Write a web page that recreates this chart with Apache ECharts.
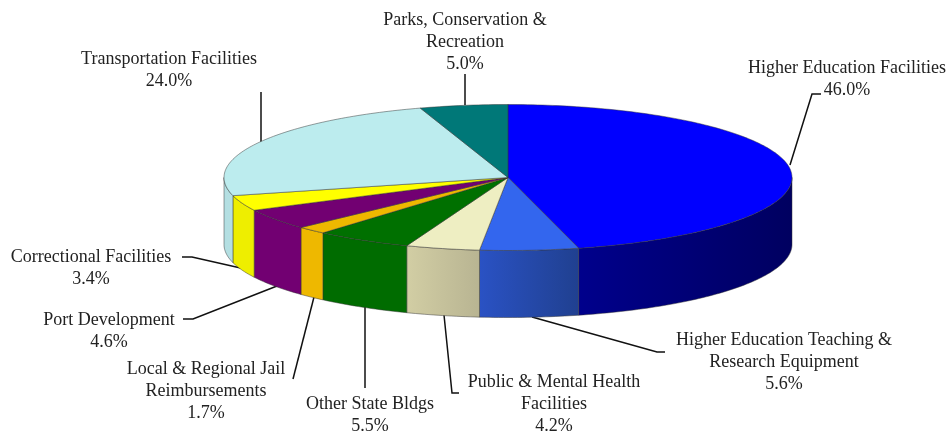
<!DOCTYPE html>
<html>
<head>
<meta charset="utf-8">
<style>
  html, body { margin: 0; padding: 0; background: #fff; }
  #chart { width: 950px; height: 433px; }
</style>
<script src="https://cdn.jsdelivr.net/npm/echarts@6/dist/echarts.min.js"></script>
</head>
<body>
<div id="chart"></div>
<script>
// clockwise from 12 o'clock
var categories = [
  'Higher Education Facilities',
  'Higher Education Teaching &\nResearch Equipment',
  'Public & Mental Health\nFacilities',
  'Other State Bldgs',
  'Local & Regional Jail\nReimbursements',
  'Port Development',
  'Correctional Facilities',
  'Transportation Facilities',
  'Parks, Conservation &\nRecreation'
]
var values = [46.0, 5.6, 4.2, 5.5, 1.7, 4.6, 3.4, 24.0, 5.0]

var topColors = ['#0000ff', '#3366ee', '#eeeec2', '#007000', '#eeb800', '#720072', '#ffff00', '#bcecee', '#007878']
var sideColors = [
  ['#00008c', '#000060'],
  ['#2a52c4', '#204090'],
  ['#d2cea4', '#b8b492'],
  ['#006c00', '#006c00'],
  ['#eeb800', '#eeb800'],
  ['#720072', '#720072'],
  ['#eeee00', '#eeee00'],
  ['#b4dfe2', '#b4dfe2'],
  ['#007878', '#007878']
]

// label centres and leader lines, in pixels
var labelPos = [
  [847, 67], [784, 339], [554, 381], [370, 403], [206, 368],
  [109, 319], [91, 256], [169, 58], [465, 19]
]
var leaders = [
  [[821, 94], [812, 94], [790, 165]],
  [[665, 352], [657, 352], [532, 317]],
  [[459, 393], [452, 393], [444, 315]],
  [[365, 307], [365, 388]],
  [[293, 379], [314, 297]],
  [[183, 319], [193, 319], [277, 286]],
  [[182, 257], [192, 257], [245, 269]],
  [[261, 92], [261, 142]],
  [[465, 74], [465, 105]]
]

var cx = 508
var cy = 177.5
var rx = 284
var ry = 73
var depth = 67
var total = values.reduce(function(a, b) { return a + b }, 0)

function rimPoint(deg, dy) {
  var t = deg * Math.PI / 180
  return [cx + rx * Math.sin(t), cy - ry * Math.cos(t) + (dy || 0)]
}

function arcPoints(from, to, dy) {
  var pts = []
  var n = Math.max(2, Math.ceil(Math.abs(to - from)))
  for (var i = 0; i <= n; i++) {
    pts.push(rimPoint(from + (to - from) * i / n, dy))
  }
  return pts
}

function renderSlice(params, api) {
  var idx = params.dataIndex
  var before = 0
  for (var i = 0; i < idx; i++) before += values[i]
  var start = before / total * 360
  var end = start + api.value(0) / total * 360
  var children = []

  // only the front half of the wall shows
  var a = Math.max(start, 90)
  var b = Math.min(end, 270)
  if (b > a) {
    var wall = arcPoints(a, b, 0).concat(arcPoints(b, a, depth))
    children.push({
      type: 'polygon',
      shape: { points: wall },
      style: {
        fill: {
          type: 'linear', x: 0, y: 0, x2: 1, y2: 0,
          colorStops: [
            { offset: 0, color: sideColors[idx][0] },
            { offset: 1, color: sideColors[idx][1] }
          ]
        },
        stroke: 'rgba(50,50,50,0.6)',
        lineWidth: 0.8
      }
    })
  }

  var slice = [[cx, cy]].concat(arcPoints(start, end, 0))
  children.push({
    type: 'polygon',
    shape: { points: slice },
    style: { fill: topColors[idx], stroke: 'rgba(50,50,50,0.6)', lineWidth: 0.8 }
  })
  return { type: 'group', children: children }
}

var graphics = []
leaders.forEach(function(pts) {
  graphics.push({
    type: 'polyline',
    silent: true,
    shape: { points: pts },
    style: { stroke: '#111', lineWidth: 1.5, fill: null }
  })
})
categories.forEach(function(name, i) {
  graphics.push({
    type: 'text',
    silent: true,
    style: {
      text: name + '\n' + values[i].toFixed(1) + '%',
      x: labelPos[i][0],
      y: labelPos[i][1] - 10,
      align: 'center',
      verticalAlign: 'top',
      font: '18px "Liberation Serif", serif',
      lineHeight: 22,
      fill: '#222'
    }
  })
})

var chart = echarts.init(document.getElementById('chart'))
chart.setOption({
  backgroundColor: '#fff',
  animation: false,
  series: [{
    type: 'custom',
    coordinateSystem: 'none',
    silent: true,
    renderItem: renderSlice,
    data: values.map(function(v) { return [v] })
  }],
  graphic: graphics
})
</script>
</body>
</html>
